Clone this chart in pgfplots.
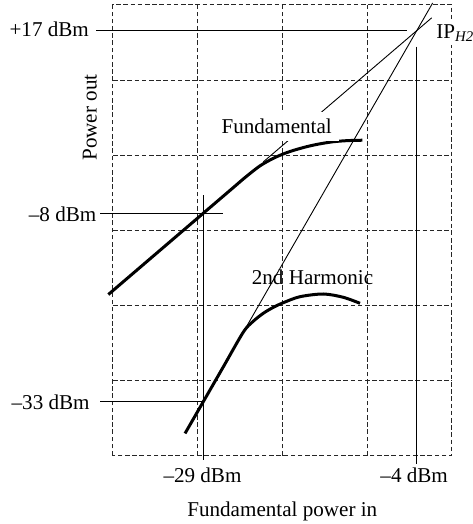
\documentclass[border=0pt]{standalone}
\usepackage{pgfplots}
\pgfplotsset{compat=1.18}
\usepackage{fontspec}
\setmainfont{Liberation Serif}
\begin{document}
\fontsize{10.55}{12.66}\selectfont
\begin{tikzpicture}[font=\fontsize{10.55}{12.66}\selectfont]
\begin{axis}[
  at={(0pt,0pt)}, anchor=south west,
  scale only axis, width=169.5pt, height=225.25pt,
  xmin=-40, xmax=0, ymin=-40, ymax=20,
  axis line style={black!85, line width=0.5pt, dash pattern=on 2.3pt off 1.3pt},
  xtick={-30,-20,-10}, ytick={-30,-20,-10,0,10},
  xticklabels={}, yticklabels={},
  major tick length=0pt,
  grid=major,
  grid style={black!85, line width=0.5pt, dash pattern=on 2.3pt off 1.3pt},
  clip=false,
  no markers,
  xlabel={Fundamental power in},
  xlabel style={at={(axis description cs:0.4994,-0.1343)}, anchor=base, inner sep=0pt},
  ylabel={Power out},
  ylabel style={at={(axis description cs:-0.0481,0.7503)}, anchor=base, inner sep=0pt},
]
% reference lines
\addplot[black, line width=0.6pt] coordinates {(-41.97,16.58) (-5.345,16.58)};
\addplot[black, line width=0.6pt] coordinates {(-41.53,-7.74) (-27.06,-7.74)};
\addplot[black, line width=0.6pt] coordinates {(-41.53,-32.84) (-29.35,-32.84)};
\addplot[black, line width=0.6pt] coordinates {(-29.35,-5.31) (-29.35,-40.60)};
\addplot[black, line width=0.6pt] coordinates {(-4.165,14.45) (-4.165,-41.13)};
% extrapolations
\addplot[black, line width=0.45pt] coordinates {(-22.27,-0.90) (-2.395,18.29)};
\addplot[black, line width=0.45pt] coordinates {(-24.425,-23.18) (-2.28,20.27)};
% fundamental
\addplot[black, line width=1.5pt, smooth, tension=0.5] coordinates {
  (-40.55,-18.56) (-29.35,-7.74) (-25.81,-4.32) (-24.42,-2.98)
  (-22.65,-1.42) (-20.885,-0.31) (-19.115,0.49) (-17.145,1.13)
  (-15.575,1.51) (-14.005,1.79) (-12.27,1.94) (-10.58,1.99)};
% 2nd harmonic
\addplot[black, line width=1.5pt, smooth, tension=0.5] coordinates {
  (-31.50,-37.06) (-29.35,-32.84) (-26.93,-28.09) (-24.625,-23.57)
  (-23.48,-22.15) (-22.265,-21.06) (-21.12,-20.29) (-19.905,-19.65)
  (-17.935,-18.85) (-15.185,-18.49) (-12.825,-18.93) (-10.855,-19.73)};
% labels
\node[fill=white, anchor=base] at (axis cs:-20.685,2.91) {Fundamental};
\node[anchor=base] at (axis cs:-16.46,-17.29) {2nd Harmonic};
\node[anchor=base west, fill=white, inner xsep=0.3pt, inner ysep=1.5pt] at (axis cs:-1.96,15.54) {IP\textsubscript{\itshape H2}};
\node[anchor=base east, inner sep=0pt] at (axis cs:-42.80,15.78) {+17 dBm};
\node[anchor=base east, inner sep=0pt] at (axis cs:-41.92,-8.77) {\textendash8 dBm};
\node[anchor=base east, inner sep=0pt] at (axis cs:-42.71,-33.81) {\textendash33 dBm};
\node[anchor=base, inner sep=0pt] at (axis cs:-29.44,-43.66) {\textendash29 dBm};
\node[anchor=base, inner sep=0pt] at (axis cs:-4.46,-43.66) {\textendash4 dBm};
\end{axis}
\pgfresetboundingbox
\path[use as bounding box] (-56.5pt,-34.25pt) rectangle (179.5pt,227.75pt);
\end{tikzpicture}
\end{document}
